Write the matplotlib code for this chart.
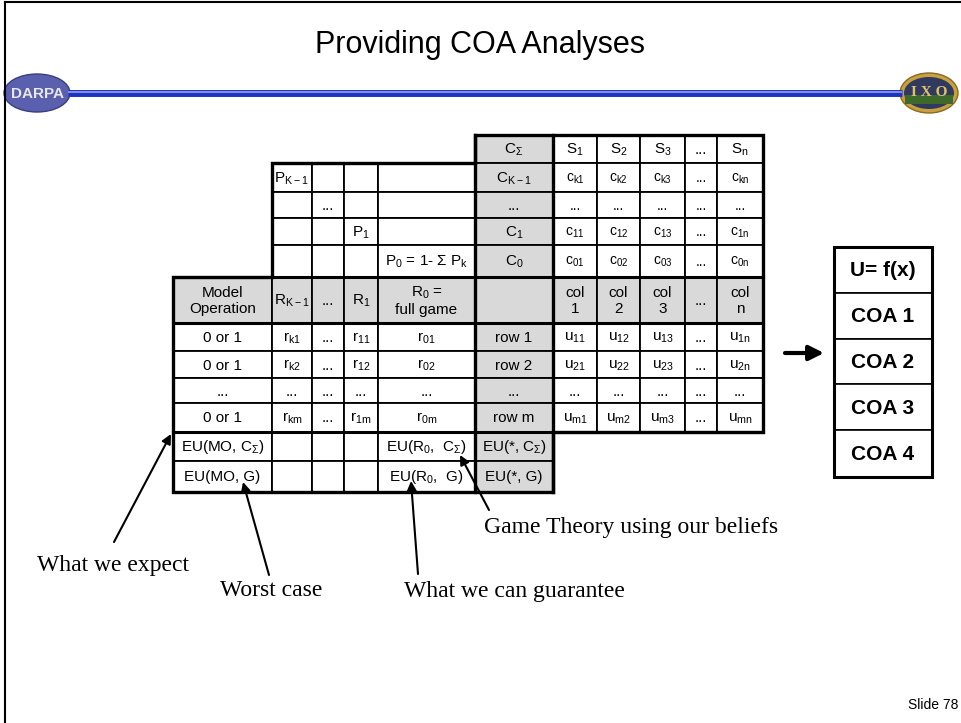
import matplotlib
matplotlib.use("Agg")
import matplotlib.pyplot as plt
from matplotlib.patches import Rectangle, Ellipse, Polygon

plt.rcParams['mathtext.default'] = 'regular'
plt.rcParams['font.family'] = ['Liberation Sans', 'DejaVu Sans']

# ---- table content ----
top_head = ["C$_\\Sigma$", "S$_1$", "S$_2$", "S$_3$", "...", "S$_n$"]
p_rows = [
    ["P$_{K-1}$", "", "", "", "C$_{K-1}$", "c$_{k1}$", "c$_{k2}$", "c$_{k3}$", "...", "c$_{kn}$"],
    ["", "...", "", "", "...", "...", "...", "...", "...", "..."],
    ["", "", "P$_1$", "", "C$_1$", "c$_{11}$", "c$_{12}$", "c$_{13}$", "...", "c$_{1n}$"],
    ["", "", "", "P$_0$ = 1- \u03a3 P$_k$", "C$_0$", "c$_{01}$", "c$_{02}$", "c$_{03}$", "...", "c$_{0n}$"],
]
main_head = ["Model\nOperation", "R$_{K-1}$", "...", "R$_1$", "R$_0$ =\nfull game", "",
             "col\n1", "col\n2", "col\n3", "...", "col\nn"]
main_rows = [
    ["0 or 1", "r$_{k1}$", "...", "r$_{11}$", "r$_{01}$", "row 1", "u$_{11}$", "u$_{12}$", "u$_{13}$", "...", "u$_{1n}$"],
    ["0 or 1", "r$_{k2}$", "...", "r$_{12}$", "r$_{02}$", "row 2", "u$_{21}$", "u$_{22}$", "u$_{23}$", "...", "u$_{2n}$"],
    ["...", "...", "...", "...", "...", "...", "...", "...", "...", "...", "..."],
    ["0 or 1", "r$_{km}$", "...", "r$_{1m}$", "r$_{0m}$", "row m", "u$_{m1}$", "u$_{m2}$", "u$_{m3}$", "...", "u$_{mn}$"],
]
eu_rows = [
    ["EU(MO, C$_\\Sigma$)", "", "", "", "EU(R$_0$,  C$_\\Sigma$)", "EU(*, C$_\\Sigma$)"],
    ["EU(MO, G)", "", "", "", "EU(R$_0$,  G)", "EU(*, G)"],
]
coa_labels = ["U= f(x)", "COA 1", "COA 2", "COA 3", "COA 4"]
notes = ["What we expect", "Worst case", "What we can guarantee", "Game Theory using our beliefs"]

# grid geometry (pixels)
col_x = [173, 272, 312, 344, 378, 475, 553, 597, 640, 685, 717, 763]
top_y = [135, 163, 192, 218, 245, 277]
main_y = [277, 323, 351, 378, 403, 432, 461, 492]
gray = "#d9d9d9"

fig = plt.figure(figsize=(9.61, 7.23), dpi=100)
ax = fig.add_axes([0, 0, 1, 1])
ax.set_xlim(0, 961)
ax.set_ylim(723, 0)
ax.axis("off")

# slide frame
ax.plot([5, 5], [2, 723], color="black", lw=1.5)
ax.plot([5, 961], [2, 2], color="black", lw=1.5)

# title + bar
ax.text(480, 45, "Providing COA Analyses", ha="center", va="center", fontsize=22)
ax.plot([68, 902], [93, 93], color="#1f33c0", lw=5, solid_capstyle="butt")
ax.plot([68, 902], [92, 92], color="#8fa0f0", lw=1.2, solid_capstyle="butt")

# logos
ax.add_patch(Ellipse((37, 93), 66, 38, facecolor="#5a5fae", edgecolor="#3a3f80", lw=1))
ax.text(37, 94, "DARPA", ha="center", va="center", fontsize=11, color="#e8e8e8", weight="bold")
ax.add_patch(Ellipse((929, 93), 58, 40, facecolor="#c8a040", edgecolor="#8a6a20", lw=1))
ax.add_patch(Ellipse((929, 93), 50, 32, facecolor="#2f3a5e", edgecolor="none"))
ax.add_patch(Rectangle((905, 95), 48, 9, facecolor="#3d6a2a", edgecolor="none"))
ax.text(929, 93, "I X O", ha="center", va="center", fontsize=11, color="#e0c070",
        family="Liberation Serif", weight="bold")


def cell(x0, x1, y0, y1, txt, fill="white", size=11):
    ax.add_patch(Rectangle((x0, y0), x1 - x0, y1 - y0, facecolor=fill,
                           edgecolor="black", lw=1.3))
    if txt:
        ax.text((x0 + x1) / 2, (y0 + y1) / 2 + 1, txt, ha="center", va="center",
                fontsize=size, linespacing=1.15)


# top header row (C_sigma, S1..Sn)
for j, t in enumerate(top_head):
    c = 5 + j
    cell(col_x[c], col_x[c + 1], top_y[0], top_y[1], t, gray if c == 5 else "white")

# P rows
for i, row in enumerate(p_rows):
    for j, t in enumerate(row):
        c = 1 + j
        cell(col_x[c], col_x[c + 1], top_y[i + 1], top_y[i + 2], t,
             gray if c == 5 else "white", size=10 if c >= 6 else 11)

# main header
for c, t in enumerate(main_head):
    cell(col_x[c], col_x[c + 1], main_y[0], main_y[1], t, gray)

for i, row in enumerate(main_rows):
    for c, t in enumerate(row):
        cell(col_x[c], col_x[c + 1], main_y[i + 1], main_y[i + 2], t,
             gray if c == 5 else "white")

for i, row in enumerate(eu_rows):
    for c, t in enumerate(row):
        cell(col_x[c], col_x[c + 1], main_y[i + 5], main_y[i + 6], t,
             gray if c == 5 else "white")

# heavy structure lines
outline = [(475, 135), (763, 135), (763, 432), (553, 432), (553, 492),
           (173, 492), (173, 277), (272, 277), (272, 163), (475, 163)]
ax.add_patch(Polygon(outline, closed=True, fill=False, edgecolor="black", lw=2.4))
for x in (475, 553):
    ax.plot([x, x], [135, 492], color="black", lw=2.4)
for y in (277, 323, 432):
    ax.plot([173, 763], [y, y], color="black", lw=2.2)
ax.plot([272, 475], [163, 163], color="black", lw=2.2)

# COA box
coa_y = [247, 293, 339, 384, 430, 477]
for i, t in enumerate(coa_labels):
    ax.add_patch(Rectangle((834, coa_y[i]), 98, coa_y[i + 1] - coa_y[i],
                           facecolor="white", edgecolor="black", lw=1.2))
    ax.text(883, (coa_y[i] + coa_y[i + 1]) / 2 + 1, t, ha="center", va="center",
            fontsize=15, weight="bold")
ax.add_patch(Rectangle((834, 247), 98, 230, fill=False, edgecolor="black", lw=2.2))
ax.annotate("", xy=(824, 353), xytext=(785, 353),
            arrowprops=dict(arrowstyle="-|>", lw=3, color="black", mutation_scale=22,
                            shrinkA=0, shrinkB=0))

# annotations
ap = dict(arrowstyle="-|>", lw=1.5, color="black", mutation_scale=14, shrinkA=0, shrinkB=0)
serif = "Liberation Serif"
ax.text(37, 565, notes[0], ha="left", va="center", fontsize=17, family=serif)
ax.annotate("", xy=(171, 434), xytext=(114, 542), arrowprops=ap)
ax.text(220, 591, notes[1], ha="left", va="center", fontsize=17, family=serif)
ax.annotate("", xy=(243, 482), xytext=(269, 575), arrowprops=ap)
ax.text(404, 591, notes[2], ha="left", va="center", fontsize=17, family=serif)
ax.annotate("", xy=(411, 481), xytext=(418, 574), arrowprops=ap)
ax.text(484, 527, notes[3], ha="left", va="center", fontsize=17, family=serif)
ax.annotate("", xy=(460, 455), xytext=(489, 510), arrowprops=ap)

ax.text(958, 705, "Slide 78", ha="right", va="center", fontsize=10)

fig.savefig("out.png", dpi=100)
